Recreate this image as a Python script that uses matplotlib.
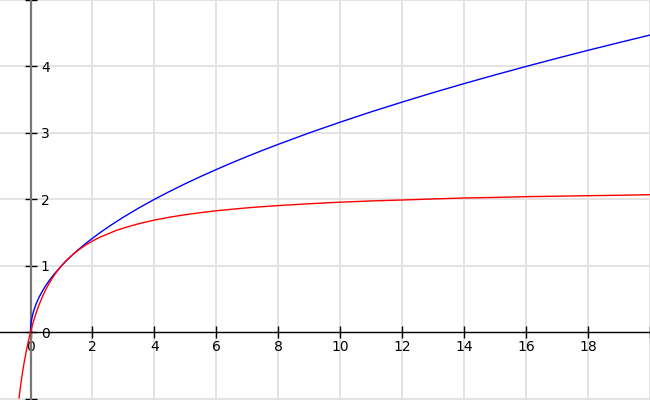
import matplotlib
matplotlib.use('Agg')
import matplotlib.pyplot as plt

# blue curve (square root)
blue_x = [0, 0.002, 0.005, 0.01, 0.02, 0.03, 0.04, 0.06, 0.08, 0.1, 0.15, 0.2, 0.25,
          0.3, 0.4, 0.5, 0.6, 0.7, 0.8, 1, 1.15, 1.3, 1.45, 1.6, 1.8, 2, 2.25, 2.5,
          2.75, 3, 3.5, 4, 4.5, 5, 5.5, 6, 6.5, 7, 7.5, 8, 9, 10, 11, 12, 13, 14,
          15, 16, 17, 18, 19, 20]
blue_y = [0, 0.045, 0.071, 0.1, 0.141, 0.173, 0.2, 0.245, 0.283, 0.316, 0.387, 0.447,
          0.5, 0.548, 0.632, 0.707, 0.775, 0.837, 0.894, 1.0, 1.072, 1.14, 1.204,
          1.265, 1.342, 1.414, 1.5, 1.581, 1.658, 1.732, 1.871, 2.0, 2.121, 2.236,
          2.345, 2.449, 2.55, 2.646, 2.739, 2.828, 3.0, 3.162, 3.317, 3.464, 3.606,
          3.742, 3.873, 4.0, 4.123, 4.243, 4.359, 4.472]

# red curve, saturating near 2.1
red_x = [-0.37, -0.35, -0.33, -0.3, -0.25, -0.2, -0.15, -0.1, -0.05, 0, 0.05, 0.1,
         0.15, 0.2, 0.25, 0.3, 0.4, 0.5, 0.6, 0.7, 0.8, 0.9, 1, 1.1, 1.2, 1.3, 1.4,
         1.6, 1.8, 2, 2.25, 2.5, 2.75, 3, 3.5, 4, 4.5, 5, 5.5, 6, 6.5, 7, 7.5, 8, 9,
         10, 11, 12, 13, 14, 15, 16, 17, 18, 19, 20]
red_y = [-0.988, -0.913, -0.84, -0.738, -0.582, -0.442, -0.316, -0.201, -0.096, 0,
         0.088, 0.17, 0.245, 0.315, 0.38, 0.441, 0.551, 0.648, 0.734, 0.81, 0.88,
         0.943, 1.0, 1.052, 1.1, 1.14, 1.184, 1.255, 1.318, 1.373, 1.432, 1.48,
         1.529, 1.568, 1.634, 1.688, 1.732, 1.769, 1.80, 1.828, 1.851, 1.872, 1.89,
         1.906, 1.934, 1.957, 1.976, 1.99, 2.006, 2.02, 2.029, 2.04, 2.047, 2.055,
         2.061, 2.07]

x_ticks = [0, 2, 4, 6, 8, 10, 12, 14, 16, 18, 20]
x_labels = ['0', '2', '4', '6', '8', '10', '12', '14', '16', '18', '']
y_ticks = [-1, 0, 1, 2, 3, 4, 5]
y_labels = ['', '0', '1', '2', '3', '4', '']

fig = plt.figure(figsize=(6.5, 4), dpi=100)
ax = fig.add_axes([0, 0, 1, 1])

ax.set_xlim(-0.985, 20)
ax.set_ylim(-1.02, 4.99)

# grid lines, skipping the axes themselves
for xv in x_ticks[1:]:
    ax.axvline(xv, color='#e3e3e3', lw=1.4, zorder=0)
for yv in y_ticks:
    if yv != 0:
        ax.axhline(yv, color='#e3e3e3', lw=1.4, zorder=0)

ax.plot(blue_x, blue_y, color='blue', lw=1.0, zorder=3)
ax.plot(red_x, red_y, color='red', lw=1.0, zorder=4)

ax.spines['left'].set_position(('data', 0))
ax.spines['bottom'].set_position(('data', 0))
ax.spines['right'].set_visible(False)
ax.spines['top'].set_visible(False)
ax.spines['left'].set_color('#777777')
ax.spines['left'].set_linewidth(1.6)
ax.spines['bottom'].set_color('black')
ax.spines['bottom'].set_linewidth(1.0)
ax.spines['left'].set_zorder(2)
ax.spines['bottom'].set_zorder(2)

ax.set_xticks(x_ticks)
ax.set_xticklabels(x_labels)
ax.set_yticks(y_ticks)
ax.set_yticklabels(y_labels)
ax.tick_params(axis='both', direction='inout', length=9, width=1.0, color='black',
               labelsize=10)
ax.tick_params(axis='x', pad=1)
# y labels sit just right of the axis line
ax.tick_params(axis='y', pad=-12)
for lab in ax.get_yticklabels():
    lab.set_horizontalalignment('left')

fig.savefig('out.png', dpi=100)
